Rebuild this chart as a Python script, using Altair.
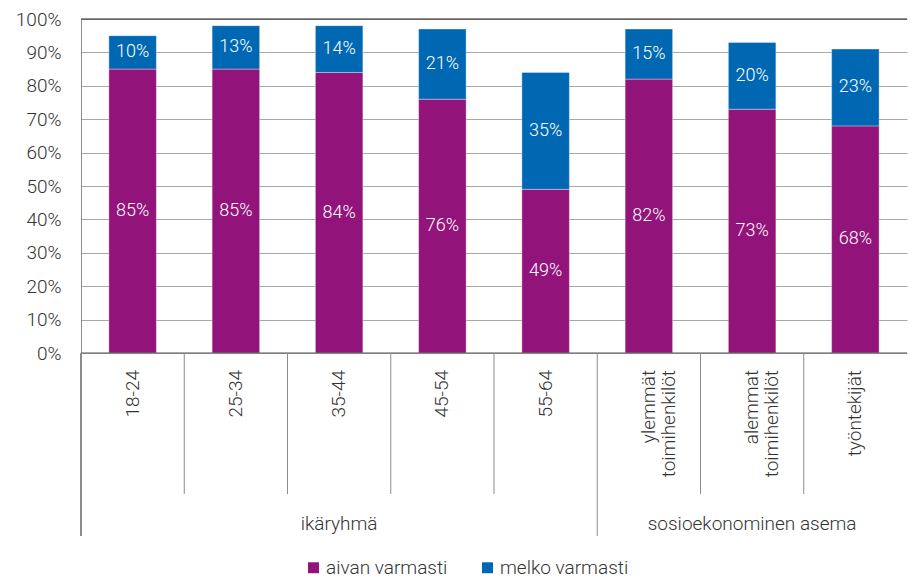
import altair as alt
import pandas as pd

categories = ["18-24", "25-34", "35-44", "45-54", "55-64",
              "ylemmät\ntoimihenkilöt", "alemmat\ntoimihenkilöt", "työntekijät"]
aivan = [85, 85, 84, 76, 49, 82, 73, 68]
melko = [10, 13, 14, 21, 35, 15, 20, 23]
series = ["aivan varmasti", "melko varmasti"]
colors = ["#92137A", "#0068B3"]

groups = ["ikäryhmä", "sosioekonominen asema"]
group_start = ["18-24", "ylemmät\ntoimihenkilöt"]
group_mid = ["35-44", "alemmat\ntoimihenkilöt"]

FONT = "Roboto"
W = 826

rows = []
for i, c in enumerate(categories):
    rows.append({"cat": c, "series": series[0], "order": 0, "value": aivan[i]})
    rows.append({"cat": c, "series": series[1], "order": 1, "value": melko[i]})
df = pd.DataFrame(rows)
gdf = pd.DataFrame({"group": groups, "start": group_start, "mid": group_mid})
cdf = pd.DataFrame({"cat": categories})

xs = alt.X("cat:N", sort=categories,
           scale=alt.Scale(domain=categories, paddingInner=0.54, paddingOuter=0.27),
           axis=None)
yscale = alt.Scale(domain=[0, 100], nice=False)
yaxis = alt.Axis(values=list(range(0, 101, 10)),
                 labelExpr="datum.value + '%'", labelOverlap=False,
                 grid=True, gridColor="#a8a8a8", gridWidth=1,
                 domainColor="#8c8c8c", ticks=False, labelPadding=20,
                 labelFontSize=19, labelColor="#333333", labelFont=FONT,
                 labelFontWeight=300, title=None)

base = alt.Chart(df).transform_stack(
    stack="value", groupby=["cat"], as_=["v0", "v1"],
    sort=[alt.SortField("order", order="ascending")]
).transform_calculate(mid="(datum.v0 + datum.v1) / 2", lbl="datum.value + '%'")

bars = base.mark_bar(stroke="#ffffff", strokeWidth=0.6, strokeOpacity=0.6).encode(
    x=xs,
    y=alt.Y("v0:Q", scale=yscale, axis=yaxis),
    y2="v1:Q",
    color=alt.Color("series:N", sort=series,
                    scale=alt.Scale(domain=series, range=colors),
                    legend=alt.Legend(title=None, orient="none", direction="horizontal",
                                      legendX=223, legendY=539,
                                      symbolType="square", symbolSize=120,
                                      symbolStrokeWidth=0, labelFontSize=19,
                                      labelFont=FONT, labelFontWeight=300,
                                      labelColor="#333333", columnPadding=30,
                                      labelOffset=3)),
    order=alt.Order("order:Q"),
)

labels = base.mark_text(color="white", fontSize=18, font=FONT, fontWeight=300,
                        baseline="middle").encode(
    x=xs,
    y=alt.Y("mid:Q", scale=yscale, axis=yaxis),
    text="lbl:N",
)

top_line = alt.Chart(pd.DataFrame({"y": [100]})).mark_rule(
    color="#222222", strokeWidth=1.2).encode(y=alt.Y("y:Q", scale=yscale, axis=yaxis))
bottom_line = alt.Chart(pd.DataFrame({"y": [0]})).mark_rule(
    color="#555555", strokeWidth=1.2).encode(y=alt.Y("y:Q", scale=yscale, axis=yaxis))

top = alt.layer(bars, labels, top_line, bottom_line).properties(width=W, height=334)

xb = alt.Scale(domain=categories, paddingInner=0, paddingOuter=0)
SEP = 141
BH = 183

seps = alt.Chart(cdf).mark_rule(color="#8c8c8c", strokeWidth=1).encode(
    x=alt.X("cat:N", scale=xb, bandPosition=0, axis=None),
    y=alt.value(0), y2=alt.value(SEP))
left_line = alt.Chart(cdf).mark_rule(color="#8c8c8c", strokeWidth=1).encode(
    x=alt.value(0), y=alt.value(0), y2=alt.value(BH))
gseps = alt.Chart(gdf).mark_rule(color="#8c8c8c", strokeWidth=1).encode(
    x=alt.X("start:N", scale=xb, bandPosition=0, axis=None),
    y=alt.value(SEP), y2=alt.value(BH))
ctext = alt.Chart(cdf).mark_text(angle=270, align="right", baseline="middle",
                                 fontSize=19, font=FONT, fontWeight=300,
                                 color="#333333", lineBreak="\n", lineHeight=20).encode(
    x=alt.X("cat:N", scale=xb, axis=None),
    y=alt.value(17), text="cat:N")
gtext = alt.Chart(gdf).mark_text(baseline="middle", fontSize=19, font=FONT,
                                 fontWeight=300, color="#333333").encode(
    x=alt.X("mid:N", scale=xb, axis=None),
    y=alt.value(171), text="group:N")

bottom = alt.layer(seps, left_line, gseps, ctext, gtext).properties(width=W, height=BH)

chart = alt.vconcat(top, bottom, spacing=0, bounds="flush").resolve_scale(
    x="independent").properties(
    padding={"left": 7, "top": 2, "right": 0, "bottom": 0}
).configure_view(stroke=None)

chart.save("out.html", embed_options={"renderer": "svg", "actions": False})
